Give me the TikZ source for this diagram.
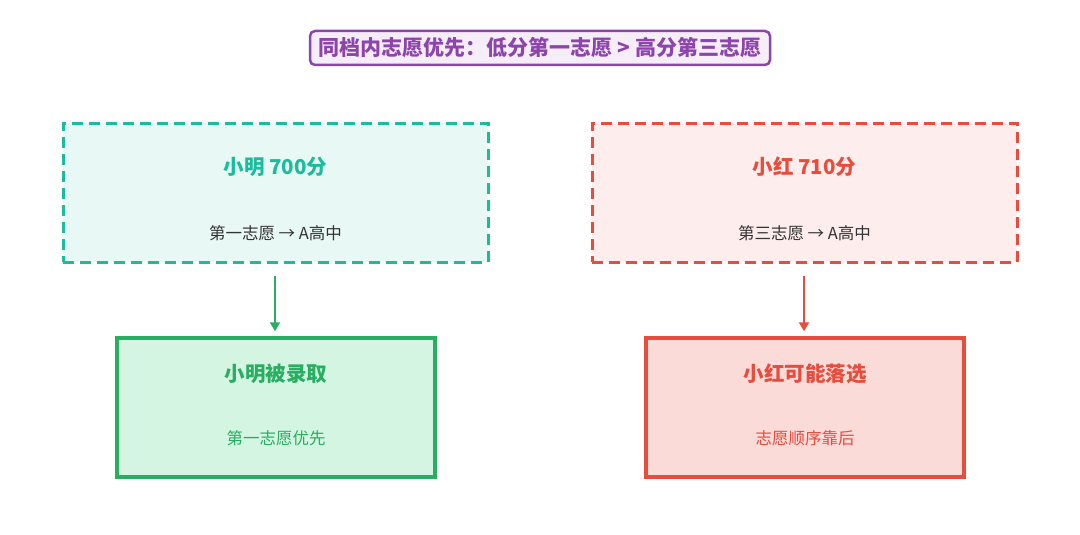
\documentclass[tikz,border=0pt]{standalone}
\usepackage{fontspec}
\setmainfont{Noto Sans CJK SC}
\usetikzlibrary{arrows.meta,positioning}
\definecolor{purp}{HTML}{8E44AD}
\definecolor{purpfill}{HTML}{F5EEF8}
\definecolor{teal}{HTML}{1ABC9C}
\definecolor{tealfill}{HTML}{E8F8F5}
\definecolor{grn}{HTML}{27AE60}
\definecolor{grnfill}{HTML}{D5F5E3}
\definecolor{red}{HTML}{E74C3C}
\definecolor{redfill}{HTML}{FDEDEC}
\definecolor{redfill2}{HTML}{FADBD8}
\definecolor{txt}{HTML}{333333}
\tikzset{
  titlebox/.style={draw=purp,fill=purpfill,line width=2.5pt,rounded corners=5pt,minimum width=460pt,minimum height=34pt,inner sep=0pt,text=purp,font=\fontsize{21pt}{22pt}\selectfont\bfseries},
  dbox/.style={dash pattern=on 11pt off 6pt,line width=3pt,minimum width=425pt,minimum height=139pt,inner sep=0pt},
  sbox/.style={line width=3.5pt,minimum width=318pt,minimum height=139pt,inner sep=0pt},
  htext/.style={font=\fontsize{20.5pt}{22pt}\selectfont\bfseries},
  stext/.style={font=\fontsize{16.5pt}{18pt}\selectfont},
  conn/.style={line width=2.5pt,-{Triangle[length=9pt,width=10pt]}},
}
\begin{document}
\begin{tikzpicture}[x=1pt,y=-1pt]
\useasboundingbox (0,0) rectangle (1080,535);
\fill[white] (0,0) rectangle (1080,535);
\node[titlebox] (title) at (540,48) {同档内志愿优先：低分第一志愿 > 高分第三志愿};
% left
\node[dbox,draw=teal,fill=tealfill] (lt) at (275.5,192.5) {};
\node[htext,text=teal] (ltt) at (275.5,167) {小明 700分};
\node[stext,text=txt] (lts) at (275.5,233) {第一志愿 → A高中};
\node[sbox,draw=grn,fill=grnfill] (lb) at (276,407.5) {};
\node[htext,text=grn] (lbt) at (276,374) {小明被录取};
\node[stext,text=grn] (lbs) at (276,438) {第一志愿优先};
\draw[conn,draw=grn,fill=grn,shorten <=12pt,shorten >=5pt] (lt.south -| 275,0) -- (lb.north -| 275,0);
% right
\node[dbox,draw=red,fill=redfill] (rt) at (804.5,192.5) {};
\node[htext,text=red] (rtt) at (804.5,167) {小红 710分};
\node[stext,text=txt] (rts) at (804.5,233) {第三志愿 → A高中};
\node[sbox,draw=red,fill=redfill2] (rb) at (805,407.5) {};
\node[htext,text=red] (rbt) at (805,374) {小红可能落选};
\node[stext,text=red] (rbs) at (805,438) {志愿顺序靠后};
\draw[conn,draw=red,fill=red,shorten <=12pt,shorten >=5pt] (rt.south -| 804,0) -- (rb.north -| 804,0);
\end{tikzpicture}
\end{document}
